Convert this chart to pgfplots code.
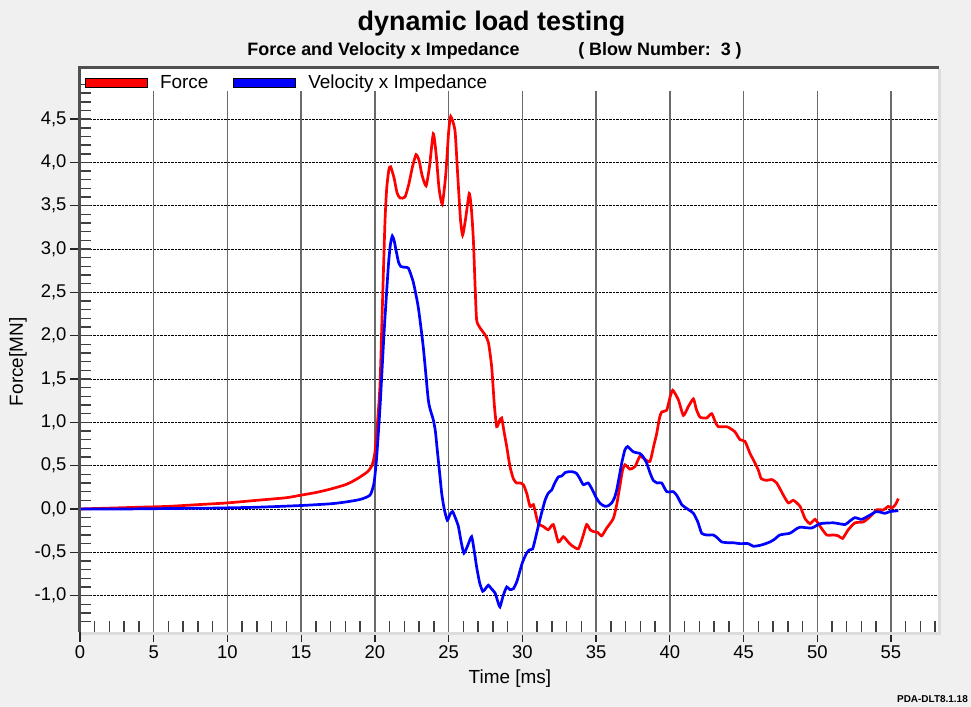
\documentclass[border=0pt]{standalone}
\usepackage{fontspec}
\setmainfont{Liberation Sans}
\usepackage{pgfplots}
\pgfplotsset{compat=1.18}
\definecolor{bggray}{HTML}{F0F0F0}
\definecolor{framedark}{HTML}{505050}
\definecolor{framelight}{HTML}{DCDCDC}
\definecolor{vgridc}{HTML}{6A6A6A}
\definecolor{forcered}{HTML}{FF0000}
\definecolor{velblue}{HTML}{0000FF}
\begin{document}
\begin{tikzpicture}[x=1bp,y=1bp]
\fill[bggray] (0,0) rectangle (971,707);
\useasboundingbox (0,0) rectangle (971,707);
\begin{axis}[
  at={(80bp,75bp)}, anchor=south west,
  scale only axis, width=858bp, height=564bp,
  xmin=0, xmax=58.19, ymin=-1.42, ymax=5.09,
  axis line style={draw=none},
  axis background/.style={fill=white},
  xtick={0,5,...,55}, ytick={-1,-0.5,...,4.5},
  tick align=outside, xtick pos=bottom, ytick pos=left,
  major tick length=10bp,
  tick style={black!85, line width=1.3bp},
  extra x ticks={1,2,...,58}, extra x tick labels={},
  extra y ticks={-1.3,-1.2,...,4.85}, extra y tick labels={},
  extra tick style={tick align=inside, major tick length=11bp, grid=none, tick style={black!75, line width=1.5bp}},
  ymajorgrids, major grid style={densely dotted, black, line width=0.9bp},
  xticklabel={\pgfmathprintnumber[assume math mode=true]{\tick}},
  yticklabel={\pgfmathprintnumber[fixed,fixed zerofill,precision=1,use comma,assume math mode=true]{\tick}},
  ticklabel style={font=\fontsize{18.5}{20}\selectfont},
  xlabel={Time [ms]}, ylabel={Force[MN]},
  label style={font=\fontsize{19}{21}\selectfont},
  xlabel style={at={(axis description cs:0.501,-0.083)}, anchor=center},
  ylabel style={at={(axis description cs:-0.0723,0.479)}, anchor=center},
  legend columns=-1,
  legend style={draw=none, fill=none, at={(rel axis cs:0,1)}, anchor=north west,
    xshift=5bp, yshift=-7bp, inner sep=0pt,
    font=\fontsize{19}{21}\selectfont,
    nodes={inner sep=0pt, anchor=west},
    /tikz/every odd column/.append style={column sep=12bp},
    /tikz/every even column/.append style={column sep=25bp}},
]
\pgfplotsinvokeforeach{5,10,...,55}{\draw[vgridc, line width=1.5bp] (axis cs:#1,-1.42) -- (axis cs:#1,4.82);}
\addplot[forcered, line width=2.7bp, smooth, tension=0.35,
  legend image code/.code={\filldraw[fill=forcered, draw=black, line width=0.9bp] (0bp,-4.7bp) rectangle (62bp,4.7bp);}]
coordinates {
(0,0) (2,0.01) (4,0.02) (6,0.03) (8,0.05) (10,0.07) (12,0.10) (14,0.13) (15,0.16) (16,0.19) (17,0.23) (18,0.28) (18.5,0.32) (19,0.37) (19.5,0.43) (19.8,0.50) (20.0,0.65) (20.2,1.05) (20.35,1.45) (20.5,2.3) (20.68,3.3) (20.8,3.7) (20.95,3.92) (21.07,3.95) (21.3,3.82) (21.5,3.65) (21.7,3.59) (22.04,3.60) (22.3,3.75) (22.55,3.95) (22.79,4.09) (23.0,4.02) (23.2,3.85) (23.47,3.73) (23.7,3.95) (23.96,4.33) (24.15,4.1) (24.35,3.7) (24.57,3.52) (24.8,3.85) (25.0,4.35) (25.14,4.53) (25.43,4.37) (25.6,3.9) (25.8,3.35) (25.95,3.16) (26.15,3.35) (26.4,3.64) (26.55,3.45) (26.68,3.10) (26.8,2.55) (26.9,2.18) (27.13,2.09) (27.47,2.01) (27.7,1.92) (27.92,1.64) (28.1,1.2) (28.26,0.95) (28.45,1.02) (28.6,1.05) (28.75,0.9) (28.94,0.72) (29.16,0.49) (29.39,0.35) (29.6,0.3) (29.85,0.3) (30.07,0.28) (30.3,0.18) (30.52,0.03) (30.75,0.05) (30.9,-0.05) (31.08,-0.17) (31.4,-0.2) (31.76,-0.24) (32.1,-0.18) (32.44,-0.38) (32.78,-0.32) (33.1,-0.38) (33.34,-0.42) (33.8,-0.46) (34.1,-0.32) (34.36,-0.18) (34.6,-0.24) (34.81,-0.26) (35.1,-0.27) (35.38,-0.31) (35.72,-0.22) (36.17,-0.11) (36.4,0.05) (36.6,0.25) (36.8,0.45) (36.96,0.51) (37.3,0.46) (37.64,0.49) (37.98,0.61) (38.32,0.57) (38.66,0.55) (38.9,0.72) (39.11,0.87) (39.3,1.05) (39.45,1.12) (39.79,1.14) (40.0,1.28) (40.2,1.37) (40.58,1.26) (40.92,1.08) (41.25,1.18) (41.6,1.27) (41.8,1.15) (42.05,1.06) (42.5,1.05) (42.84,1.10) (43.1,1.0) (43.29,0.95) (43.86,0.95) (44.1,0.93) (44.42,0.89) (44.76,0.80) (45.1,0.78) (45.44,0.64) (45.66,0.57) (46.0,0.45) (46.2,0.35) (46.57,0.33) (46.9,0.34) (47.25,0.30) (47.7,0.16) (48.04,0.07) (48.38,0.10) (48.83,0.03) (49.17,-0.11) (49.51,-0.17) (49.85,-0.12) (50.19,-0.20) (50.64,-0.30) (51.09,-0.30) (51.43,-0.31) (51.72,-0.34) (52.1,-0.24) (52.56,-0.16) (53.12,-0.15) (53.58,-0.09) (54.03,-0.01) (54.48,-0.01) (54.82,0.03) (55.05,0.01) (55.3,0.05) (55.5,0.12)
};
\addlegendentry{Force}
\addplot[velblue, line width=2.7bp, smooth, tension=0.35,
  legend image code/.code={\filldraw[fill=velblue, draw=black, line width=0.9bp] (0bp,-4.7bp) rectangle (62bp,4.7bp);}]
coordinates {
(0,0) (3,0.0) (6,0.005) (9,0.01) (12,0.02) (15,0.04) (17,0.06) (18,0.08) (19,0.11) (19.67,0.16) (19.94,0.30) (20.12,0.60) (20.35,1.18) (20.62,2.03) (20.91,2.80) (21.05,3.05) (21.18,3.15) (21.3,3.10) (21.43,2.99) (21.6,2.85) (21.75,2.80) (22.0,2.79) (22.27,2.78) (22.6,2.62) (22.94,2.33) (23.28,1.87) (23.62,1.26) (23.8,1.12) (23.96,1.03) (24.1,0.9) (24.23,0.68) (24.4,0.4) (24.53,0.18) (24.7,0.0) (24.91,-0.13) (25.1,-0.06) (25.27,-0.03) (25.45,-0.1) (25.66,-0.20) (25.85,-0.38) (26.04,-0.51) (26.3,-0.42) (26.56,-0.32) (26.75,-0.5) (26.9,-0.67) (27.1,-0.85) (27.31,-0.95) (27.5,-0.92) (27.69,-0.88) (27.9,-0.92) (28.15,-0.97) (28.3,-1.05) (28.48,-1.13) (28.7,-1.0) (28.94,-0.90) (29.15,-0.93) (29.39,-0.92) (29.6,-0.85) (29.73,-0.78) (30.0,-0.62) (30.29,-0.51) (30.5,-0.47) (30.7,-0.46) (30.9,-0.33) (31.08,-0.20) (31.3,-0.05) (31.54,0.10) (31.75,0.18) (31.99,0.22) (32.2,0.30) (32.44,0.37) (32.67,0.38) (32.9,0.42) (33.12,0.43) (33.4,0.43) (33.68,0.41) (33.9,0.35) (34.14,0.28) (34.47,0.30) (34.75,0.22) (35.04,0.12) (35.3,0.06) (35.61,0.03) (35.85,0.04) (36.06,0.07) (36.25,0.13) (36.4,0.22) (36.6,0.40) (36.74,0.53) (36.95,0.68) (37.14,0.72) (37.52,0.66) (37.98,0.64) (38.2,0.60) (38.43,0.53) (38.65,0.42) (38.88,0.33) (39.15,0.30) (39.45,0.30) (39.79,0.20) (40.24,0.20) (40.5,0.15) (40.81,0.05) (41.2,0.0) (41.6,-0.05) (41.9,-0.15) (42.16,-0.28) (42.5,-0.30) (42.95,-0.30) (43.2,-0.33) (43.52,-0.38) (44.0,-0.39) (44.31,-0.39) (44.76,-0.40) (45.32,-0.40) (45.66,-0.43) (46.12,-0.42) (46.5,-0.40) (46.8,-0.38) (47.1,-0.35) (47.47,-0.30) (48.15,-0.28) (48.5,-0.24) (48.83,-0.21) (49.62,-0.22) (50.19,-0.17) (51.09,-0.16) (51.88,-0.18) (52.2,-0.14) (52.56,-0.10) (53.01,-0.12) (53.58,-0.07) (54.03,-0.03) (54.59,-0.05) (54.93,-0.03) (55.5,-0.02)
};
\addlegendentry{Velocity x Impedance}
\end{axis}
% frame of the plot area
\draw[framedark, line width=3bp] (78.5,639.5) -- (939,639.5);
\draw[framedark, line width=3bp] (79.5,75) -- (79.5,641);
\draw[framelight, line width=3bp] (939.5,73.5) -- (939.5,638);
\draw[framelight, line width=2.5bp] (81,73.5) -- (941,73.5);
% titles
\node[font=\fontsize{27}{30}\selectfont\bfseries, anchor=base, inner sep=0pt] at (491.5,676) {dynamic load testing};
\node[font=\fontsize{18}{20}\selectfont\bfseries, anchor=base, inner sep=0pt] at (383.5,651) {Force and Velocity x Impedance};
\node[font=\fontsize{18}{20}\selectfont\bfseries, anchor=base, inner sep=0pt] at (660,651) {( Blow Number:\ \ 3 )};
\node[font=\fontsize{10}{12}\selectfont\bfseries, anchor=base east, inner sep=0pt] at (968,4) {PDA-DLT8.1.18};
\end{tikzpicture}
\end{document}
